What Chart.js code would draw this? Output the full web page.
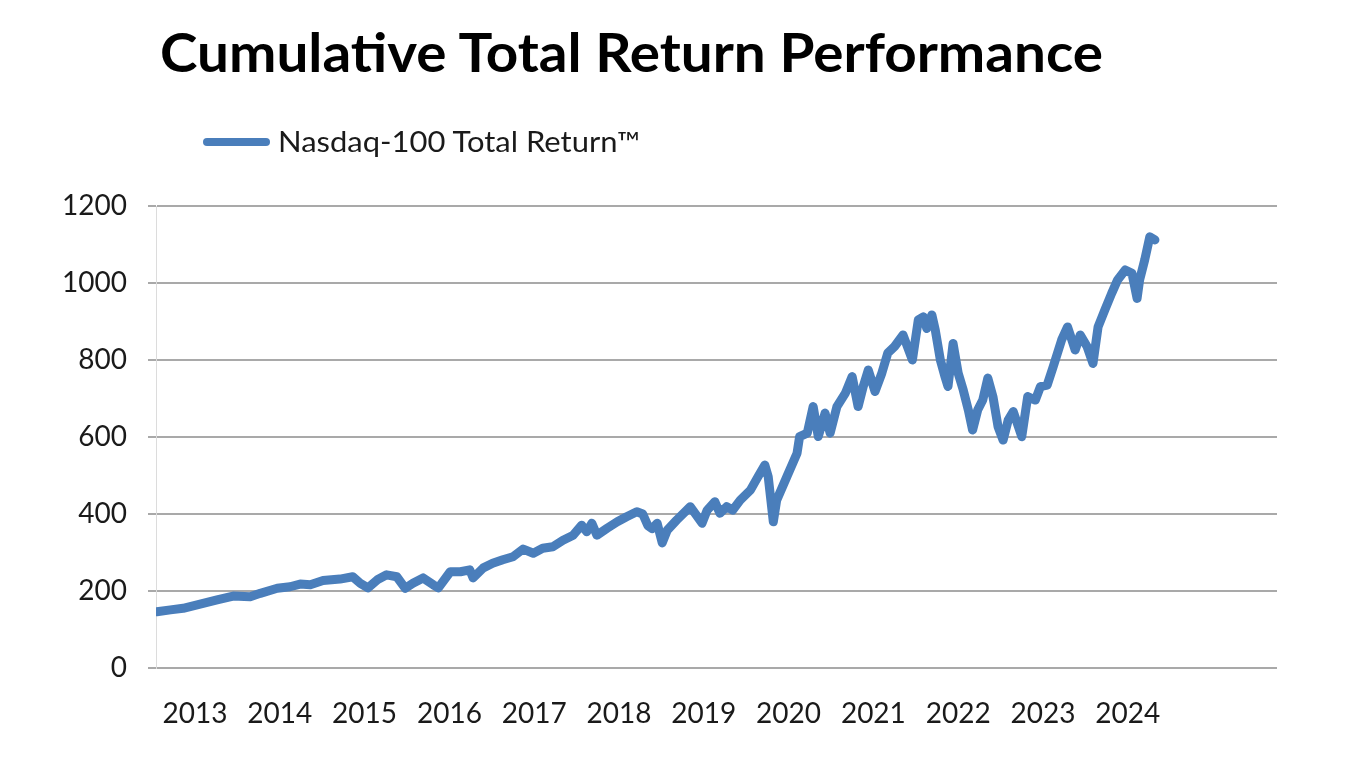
<!DOCTYPE html>
<html>
<head>
<meta charset="utf-8">
<script src="https://cdn.jsdelivr.net/npm/chart.js@4"></script>
<style>
  html, body { margin: 0; padding: 0; background: #fff; }
  #wrap { position: absolute; left: 0; top: 0; width: 1370px; height: 757px; }
  #title { position: absolute; left: 160px; top: 25px; font: bold 53px Lato, sans-serif; line-height: 1; color: #000; white-space: nowrap; transform-origin: left top; }
  #legend { position: absolute; left: 203px; top: 127px; height: 30px; white-space: nowrap; }
  #legend .sw { position: absolute; left: 0; top: 11px; width: 67px; height: 8px; border-radius: 4px; background: #4a7ebb; }
  #legend .lt { position: absolute; left: 75px; top: 0; font: 28px Lato, sans-serif; line-height: 1; color: #1a1a1a; transform-origin: left top; }
</style>
</head>
<body>
<div id="wrap">
  <canvas id="c" width="1370" height="757"></canvas>
  <div id="title">Cumulative Total Return Performance</div>
  <div id="legend"><div class="sw"></div><div class="lt" id="lt">Nasdaq-100 Total Return™</div></div>
</div>
<script>
// ---- data ----
const seriesName = 'Nasdaq-100 Total Return™';
const yearLabels = [2013, 2014, 2015, 2016, 2017, 2018, 2019, 2020, 2021, 2022, 2023, 2024];
const yTicks = [0, 200, 400, 600, 800, 1000, 1200];
const dates = [
  2013.05, 2013.21, 2013.36, 2013.56, 2013.76, 2013.95, 2014.15, 2014.27, 2014.47, 2014.62,
  2014.74, 2014.86, 2015.01, 2015.21, 2015.36, 2015.45, 2015.54, 2015.65, 2015.76, 2015.88,
  2015.98, 2016.07, 2016.19, 2016.31, 2016.37, 2016.51, 2016.63, 2016.74, 2016.78, 2016.90,
  2017.01, 2017.13, 2017.25, 2017.37, 2017.49, 2017.60, 2017.72, 2017.84, 2017.96, 2018.06,
  2018.12, 2018.18, 2018.24, 2018.36, 2018.48, 2018.59, 2018.71, 2018.78, 2018.84, 2018.89,
  2018.95, 2019.01, 2019.07, 2019.18, 2019.34, 2019.48, 2019.54, 2019.63, 2019.69, 2019.77,
  2019.84, 2019.93, 2020.05, 2020.14, 2020.22, 2020.26, 2020.32, 2020.36, 2020.48, 2020.60,
  2020.63, 2020.72, 2020.79, 2020.85, 2020.93, 2020.99, 2021.07, 2021.17, 2021.25, 2021.32,
  2021.38, 2021.44, 2021.52, 2021.60, 2021.67, 2021.75, 2021.85, 2021.96, 2022.03, 2022.09,
  2022.13, 2022.19, 2022.23, 2022.29, 2022.34, 2022.38, 2022.44, 2022.50, 2022.56, 2022.62,
  2022.67, 2022.73, 2022.79, 2022.85, 2022.91, 2022.97, 2023.03, 2023.09, 2023.15, 2023.21,
  2023.25, 2023.32, 2023.41, 2023.47, 2023.55, 2023.62, 2023.72, 2023.79, 2023.88, 2023.94,
  2024.02, 2024.09, 2024.15, 2024.23, 2024.31, 2024.38, 2024.47, 2024.55, 2024.61, 2024.64,
  2024.70, 2024.76, 2024.82
];
const values = [
  146, 151, 155, 166, 177, 187, 185, 194, 207, 211,
  218, 216, 227, 231, 237, 220, 208, 229, 242, 237,
  207, 220, 234, 216, 208, 250, 250, 255, 234, 260,
  272, 281, 289, 309, 298, 311, 315, 332, 345, 371,
  354, 376, 345, 363, 380, 393, 406, 400, 370, 362,
  376, 325, 358, 384, 419, 376, 410, 432, 402, 419,
  410, 436, 462, 497, 527, 497, 380, 436, 497, 558,
  601, 610, 679, 601, 662, 610, 679, 714, 757, 679,
  731, 774, 718, 766, 818, 835, 865, 800, 904, 912,
  882, 917, 878, 800, 760, 731, 843, 766, 722, 670,
  618, 670, 696, 753, 705, 627, 592, 644, 666, 627,
  601, 705, 696, 731, 735, 782, 852, 886, 826, 865,
  835, 791, 886, 930, 973, 1008, 1034, 1025, 960, 1008,
  1060, 1120, 1112
];

// fit title / legend text widths to the reference
function fitWidth(el, w) {
  const m = el.getBoundingClientRect().width;
  if (m > 0) el.style.transform = 'scaleX(' + (w / m) + ')';
}
fitWidth(document.getElementById('title'), 943);
fitWidth(document.getElementById('lt'), 362);

const points = dates.map((d, i) => ({ x: d, y: values[i] }));
const tickFont = { family: 'Lato, sans-serif', size: 28 };

new Chart(document.getElementById('c'), {
  type: 'line',
  data: {
    datasets: [{
      label: seriesName,
      data: points,
      borderColor: '#4a7ebb',
      backgroundColor: '#4a7ebb',
      borderWidth: 9,
      pointRadius: 0,
      tension: 0,
      borderJoinStyle: 'round',
      borderCapStyle: 'round',
      fill: false
    }]
  },
  options: {
    responsive: false,
    animation: false,
    devicePixelRatio: 1,
    layout: { padding: { top: 206, right: 93, left: 0, bottom: 0 } },
    plugins: { legend: { display: false }, title: { display: false }, tooltip: { enabled: false } },
    scales: {
      x: {
        type: 'linear',
        min: 2013.04,
        max: 2026.26,
        grid: { display: false, drawTicks: false },
        border: { display: false },
        afterBuildTicks: (s) => { s.ticks = yearLabels.map(y => ({ value: y + 0.5 })); },
        afterFit: (s) => { s.height = 89; },
        ticks: {
          autoSkip: false, maxRotation: 0, padding: 29,
          color: '#1a1a1a', font: tickFont,
          callback: (v, i) => String(yearLabels[i])
        }
      },
      y: {
        min: 0, max: 1200,
        afterBuildTicks: (s) => { s.ticks = yTicks.map(v => ({ value: v })); },
        afterFit: (s) => { s.width = 156; },
        grid: { color: '#a9a9a9', lineWidth: 2, tickLength: 8, drawTicks: true },
        border: { display: true, color: '#dcdcdc', width: 1 },
        ticks: { padding: 21, color: '#1a1a1a', font: tickFont, callback: (v) => String(v) }
      }
    }
  }
});
</script>
</body>
</html>
